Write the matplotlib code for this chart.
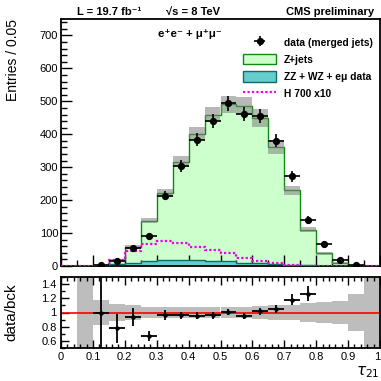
import numpy as np
import matplotlib
matplotlib.use("Agg")
import matplotlib.pyplot as plt
from matplotlib.ticker import MultipleLocator, FormatStrFormatter, FuncFormatter
from matplotlib.patches import Patch
from matplotlib.lines import Line2D

plt.rcParams['font.family'] = ['Liberation Sans', 'DejaVu Sans']

# tau21 binning, 20 bins of 0.05
bin_edges = np.linspace(0.0, 1.0, 21)

# Z+jets and ZZ+WZ+emu components (entries per bin)
zjets = [0, 0.3, 1.5, 13, 49, 123, 205, 299, 385, 445,
         477, 476, 441, 356, 227, 108, 37, 7.5, 1, 0.3]
other = [0, 0, 0.5, 5, 9, 15, 17, 18, 17, 14,
         14, 9, 8, 5, 3, 2, 1, 0.5, 0, 0]
# absolute uncertainty of the background sum (grey band, top panel)
bkg_err = [0, 0.3, 1, 3, 7, 8, 13, 16, 20, 23,
           25, 27, 27, 22, 14, 8, 5, 3, 1, 0.3]
# relative uncertainty shown in the ratio panel
ratio_band = [0, 1.0, 0.17, 0.12, 0.105, 0.08, 0.075, 0.075, 0.075, 0.075,
              0.075, 0.075, 0.09, 0.10, 0.11, 0.13, 0.15, 0.16, 0.26, 1.0]
# data (merged jets)
data = [0, 0, 2, 14, 54, 92, 214, 304, 384, 441,
        494, 462, 456, 380, 272, 139, 68, 18, 2, 0]
# H 700 signal x10
higgs = [0, 0, 0, 18, 45, 68, 77, 71, 59, 48,
         38, 25, 16, 10, 4, 1, 0.5, 0, 0, 0]

zjets = np.array(zjets)
other = np.array(other)
bkg = zjets + other
bkg_err = np.array(bkg_err)
ratio_band = np.array(ratio_band)
data = np.array(data, dtype=float)
higgs = np.array(higgs)
centers = 0.5 * (bin_edges[1:] + bin_edges[:-1])
width = bin_edges[1] - bin_edges[0]

W = 381.0
def fx(x):
    return x / W
def fy(y):
    return 1 - y / W

fig = plt.figure(figsize=(3.81, 3.81), dpi=100)
ax = fig.add_axes([fx(61), fy(266), 319 / W, 247 / W])
ax2 = fig.add_axes([fx(61), fy(348), 319 / W, 71 / W])

# ---- top panel
ax.stairs(bkg, bin_edges, fill=True, facecolor='#ccffcc', edgecolor='none', zorder=1)
ax.stairs(bkg, bin_edges, color='#118811', lw=1.0, zorder=2)
ax.stairs(other, bin_edges, fill=True, facecolor='#66cccc', edgecolor='none', zorder=2)
ax.stairs(other, bin_edges, color='#0a6e6e', lw=1.0, zorder=3)
ax.bar(centers, 2 * bkg_err, bottom=bkg - bkg_err, width=width,
       color='#7f7f7f', alpha=0.55, lw=0, zorder=3)
ax.stairs(higgs, bin_edges, color='#ee00ee', lw=1.6, ls=(0, (1, 1)), zorder=4)

m = data > 0
h_data = ax.errorbar(centers[m], data[m], xerr=width / 2, yerr=np.sqrt(data[m]),
                     fmt='o', color='black', ms=4.2, lw=1.2, capsize=0, zorder=5)

ax.set_xlim(0, 1)
ax.set_ylim(0, 750)
ax.xaxis.set_major_locator(MultipleLocator(0.1))
ax.xaxis.set_minor_locator(MultipleLocator(0.05))
ax.yaxis.set_major_locator(MultipleLocator(100))
ax.yaxis.set_minor_locator(MultipleLocator(20))
ax.tick_params(which='both', direction='in', labelbottom=False, labelsize=8,
               width=1.0, pad=2)
ax.tick_params(which='major', length=8)
ax.tick_params(which='minor', length=4)
for s in ax.spines.values():
    s.set_linewidth(1.3)
ax.set_ylabel('Entries / 0.05', fontsize=10, ha='right')
ax.yaxis.set_label_coords(-0.128, 1.0)

handles = [h_data,
           Patch(facecolor='#ccffcc', edgecolor='#118811', lw=1.0),
           Patch(facecolor='#66cccc', edgecolor='#0a6e6e', lw=1.0),
           Line2D([], [], color='#ee00ee', lw=1.6, ls=(0, (1, 1)))]
labels = ['data (merged jets)', 'Z+jets', 'ZZ + WZ + e\u03bc data', 'H 700 x10']
ax.legend(handles, labels, loc='upper left', bbox_to_anchor=(0.571, 0.928),
          frameon=False, prop={'size': 7.4, 'weight': 'bold'},
          handlelength=3.2, handleheight=1.2, handletextpad=0.75,
          labelspacing=0.62, borderpad=0, borderaxespad=0)

ax.text(0.304, 0.938, 'e\u207ae\u207b + \u03bc\u207a\u03bc\u207b', transform=ax.transAxes,
        fontsize=8.2, fontweight='bold', ha='left', va='center')

fig.text(fx(77), fy(12), 'L = 19.7 fb\u207b\u00b9', fontsize=8, fontweight='bold',
         ha='left', va='center')
fig.text(fx(166), fy(12), '\u221as = 8 TeV', fontsize=8, fontweight='bold',
         ha='left', va='center')
fig.text(fx(374), fy(12), 'CMS preliminary', fontsize=8, fontweight='bold',
         ha='right', va='center')

# ---- ratio panel
rb = np.where(bkg > 0, ratio_band, 0)
ax2.bar(centers, 2 * rb, bottom=1 - rb, width=width, color='#bdbdbd', lw=0, zorder=1)
ax2.axhline(1.0, color='red', lw=1.2, zorder=2)

ratio = np.where(bkg > 0, data / np.where(bkg > 0, bkg, 1), 0)
rerr = np.sqrt(data) / np.where(bkg > 0, bkg, 1)
mr = (data > 0) & (ratio < 1.5)
ax2.errorbar(centers[mr], ratio[mr], xerr=width / 2, yerr=rerr[mr], fmt='o',
             color='black', ms=2.2, lw=1.3, capsize=0, zorder=3)

ax2.set_xlim(0, 1)
ax2.set_ylim(0.5, 1.5)
ax2.xaxis.set_major_locator(MultipleLocator(0.1))
ax2.xaxis.set_minor_locator(MultipleLocator(0.02))
ax2.yaxis.set_major_locator(MultipleLocator(0.2))
ax2.yaxis.set_minor_locator(MultipleLocator(0.1))
# the label at 1 is drawn separately so it stays inside the image
ax2.xaxis.set_major_formatter(FuncFormatter(lambda v, p: '' if v > 0.99 else '%g' % v))
ax2.yaxis.set_major_formatter(FormatStrFormatter('%g'))
ax2.set_yticks([0.6, 0.8, 1.0, 1.2, 1.4])
ax2.tick_params(which='both', direction='in', top=True, labelsize=8, width=1.0, pad=3)
ax2.tick_params(which='major', length=6)
ax2.tick_params(which='minor', length=3)
for s in ax2.spines.values():
    s.set_linewidth(1.3)
ax2.text(1.0, -0.06, '1', transform=ax2.transAxes, fontsize=8, ha='right', va='top')
ax2.set_ylabel('data/bck', fontsize=11)
ax2.yaxis.set_label_coords(-0.135, 0.5)

fig.text(fx(380), fy(372), r'$\tau_{21}$', fontsize=11, ha='right', va='center')

fig.savefig('out.png', dpi=100)
